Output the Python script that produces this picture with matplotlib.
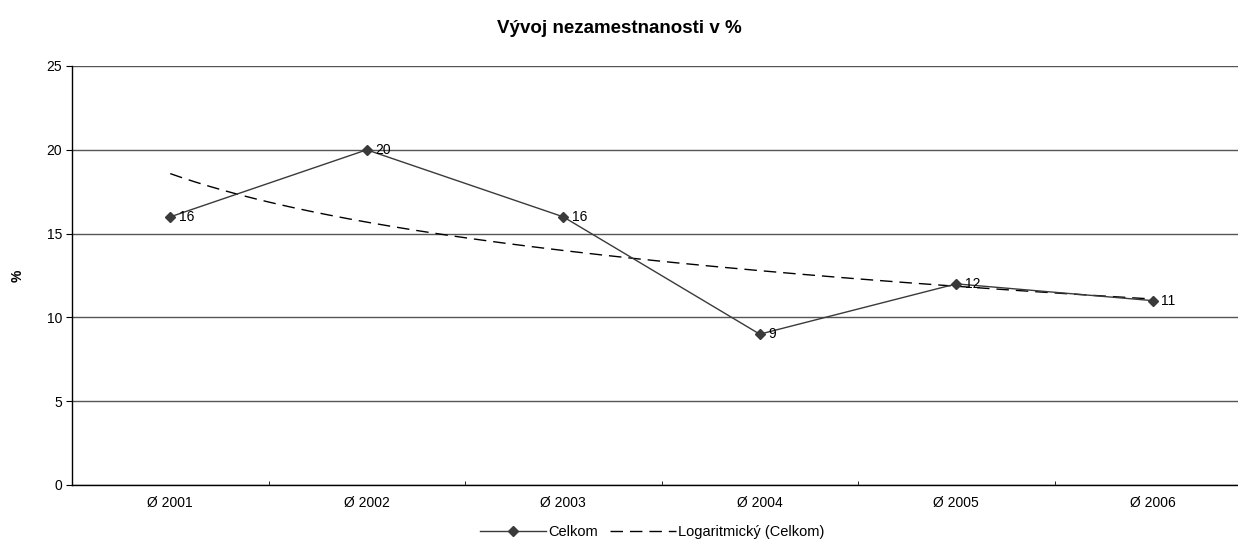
import matplotlib
matplotlib.use("Agg")
import matplotlib.pyplot as plt
import numpy as np

# Data -------------------------------------------------------------------------
years = ["Ø 2001", "Ø 2002", "Ø 2003", "Ø 2004", "Ø 2005", "Ø 2006"]
celkom = [16, 20, 16, 9, 12, 11]
title = "Vývoj nezamestnanosti v %"
ylabel = "%"
y_ticks = [0, 5, 10, 15, 20, 25]

plt.rcParams['font.family'] = ['Liberation Sans', 'DejaVu Sans']
FS = 10

# Logarithmic trendline fitted to the series (as Excel does)
xs = np.arange(1, len(celkom) + 1)
a, b = np.polyfit(np.log(xs), celkom, 1)
xt = np.linspace(1, len(celkom), 200)
yt = a * np.log(xt) + b

fig = plt.figure(figsize=(12.38, 5.39), dpi=100)
ax = fig.add_axes([72 / 1238, 54 / 539, 1179 / 1238, 419 / 539])

ax.plot(xs, celkom, color='#3a3a3a', lw=1.0, marker='D', ms=5,
        mfc='#3a3a3a', mec='#3a3a3a', label='Celkom', zorder=3)
ax.plot(xt, yt, color='black', lw=1.0, ls=(0, (9, 5)),
        label='Logaritmický (Celkom)', zorder=2)

for x, v in zip(xs, celkom):
    ax.annotate(str(v), (x, v), xytext=(6, 0), textcoords='offset points',
                va='center', ha='left', fontsize=FS)

ax.set_xlim(0.5, len(celkom) + 0.5)
ax.set_ylim(0, 25)
ax.set_yticks(y_ticks)
ax.yaxis.grid(True, color='#555555', lw=1.0)
ax.set_axisbelow(True)

ax.set_xticks(xs)
ax.set_xticklabels(years, fontsize=FS)
ax.set_xticks(np.arange(0.5, len(celkom) + 1, 1), minor=True)
ax.tick_params(axis='x', which='major', length=0, pad=8)
ax.tick_params(axis='x', which='minor', length=3, direction='in')
ax.tick_params(axis='y', length=4, labelsize=FS, pad=3)

for s in ['top', 'right']:
    ax.spines[s].set_visible(False)
ax.spines['left'].set_linewidth(1.0)
ax.spines['bottom'].set_linewidth(1.0)

ax.set_ylabel(ylabel, fontsize=FS, fontweight='bold', labelpad=16)
fig.text(0.5, 0.948, title, ha='center', va='center', fontsize=13.5,
         fontweight='bold')

fig.legend(loc='center', bbox_to_anchor=(0.527, 0.013), ncol=2, frameon=False,
           fontsize=10.5, handlelength=4.5, columnspacing=0.8, handletextpad=0.2)

fig.savefig('out.png', dpi=100)
